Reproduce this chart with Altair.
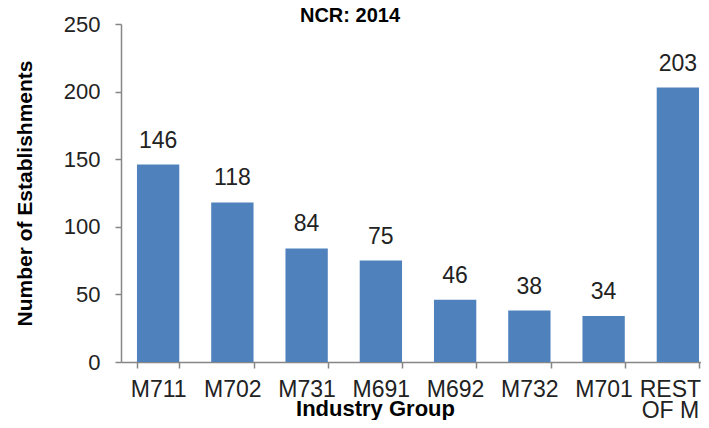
import altair as alt
import pandas as pd

categories = ["M711", "M702", "M731", "M691", "M692", "M732", "M701", "REST OF M"]
values = [146, 118, 84, 75, 46, 38, 34, 203]
y_ticks = [0, 50, 100, 150, 200, 250]

df = pd.DataFrame({"group": categories, "count": values})

FONT = "Liberation Sans"
AXIS_GRAY = "#868686"
TEXT = "#222222"

x_enc = alt.X(
    "group:N",
    sort=categories,
    scale=alt.Scale(paddingInner=0.43, paddingOuter=0.215, range=[0, 594]),
    axis=alt.Axis(
        title="Industry Group",
        titleFont=FONT,
        titleFontSize=22,
        titleFontWeight="bold",
        titleColor="#000000",
        titleBaseline="alphabetic",
        titleAlign="center",
        titleX=254,
        titleY=53,
        labelAngle=0,
        labelFont=FONT,
        labelFontSize=23,
        labelColor=TEXT,
        labelPadding=10,
        labelLineHeight=21,
        labelExpr="datum.value == 'REST OF M' ? ['REST', 'OF M'] : datum.value",
        labelOffset={"condition": {"test": "datum.value == 'REST OF M'", "value": -8}, "value": 0},
        tickBand="extent",
        tickSize=6,
        tickColor=AXIS_GRAY,
        domainColor=AXIS_GRAY,
        domainWidth=1.5,
        tickWidth=1.5,
        grid=False,
    ),
)

y_enc = alt.Y(
    "count:Q",
    scale=alt.Scale(domain=[0, 250], nice=False),
    axis=alt.Axis(
        title="Number of Establishments",
        titleFont=FONT,
        titleFontSize=21,
        titleFontWeight="bold",
        titleColor="#000000",
        titlePadding=28,
        values=y_ticks,
        labelFont=FONT,
        labelFontSize=22,
        labelColor=TEXT,
        labelPadding=15,
        tickSize=6,
        tickColor=AXIS_GRAY,
        domainColor=AXIS_GRAY,
        domainWidth=1.5,
        tickWidth=1.5,
        grid=False,
    ),
)

base = alt.Chart(df).encode(x=x_enc, y=y_enc)

bars = base.mark_bar(color="#4F81BD")
labels = base.mark_text(
    dy=-17, baseline="alphabetic", fontSize=23, font=FONT, color=TEXT
).encode(text="count:Q")

chart = (
    (bars + labels)
    .properties(
        width=580,
        height=338,
        title=alt.TitleParams(
            "NCR: 2014",
            font=FONT,
            fontSize=20,
            fontWeight="bold",
            color="#000000",
            anchor="middle",
            frame="group",
            offset=-13,
            dx=-61,
        ),
        padding={"left": 113, "top": 16, "right": 0, "bottom": 58},
        autosize=alt.AutoSizeParams(type="none"),
        background="white",
    )
    .configure_view(stroke=None)
)

chart.save("out.html", embed_options={"renderer": "svg", "actions": False})
